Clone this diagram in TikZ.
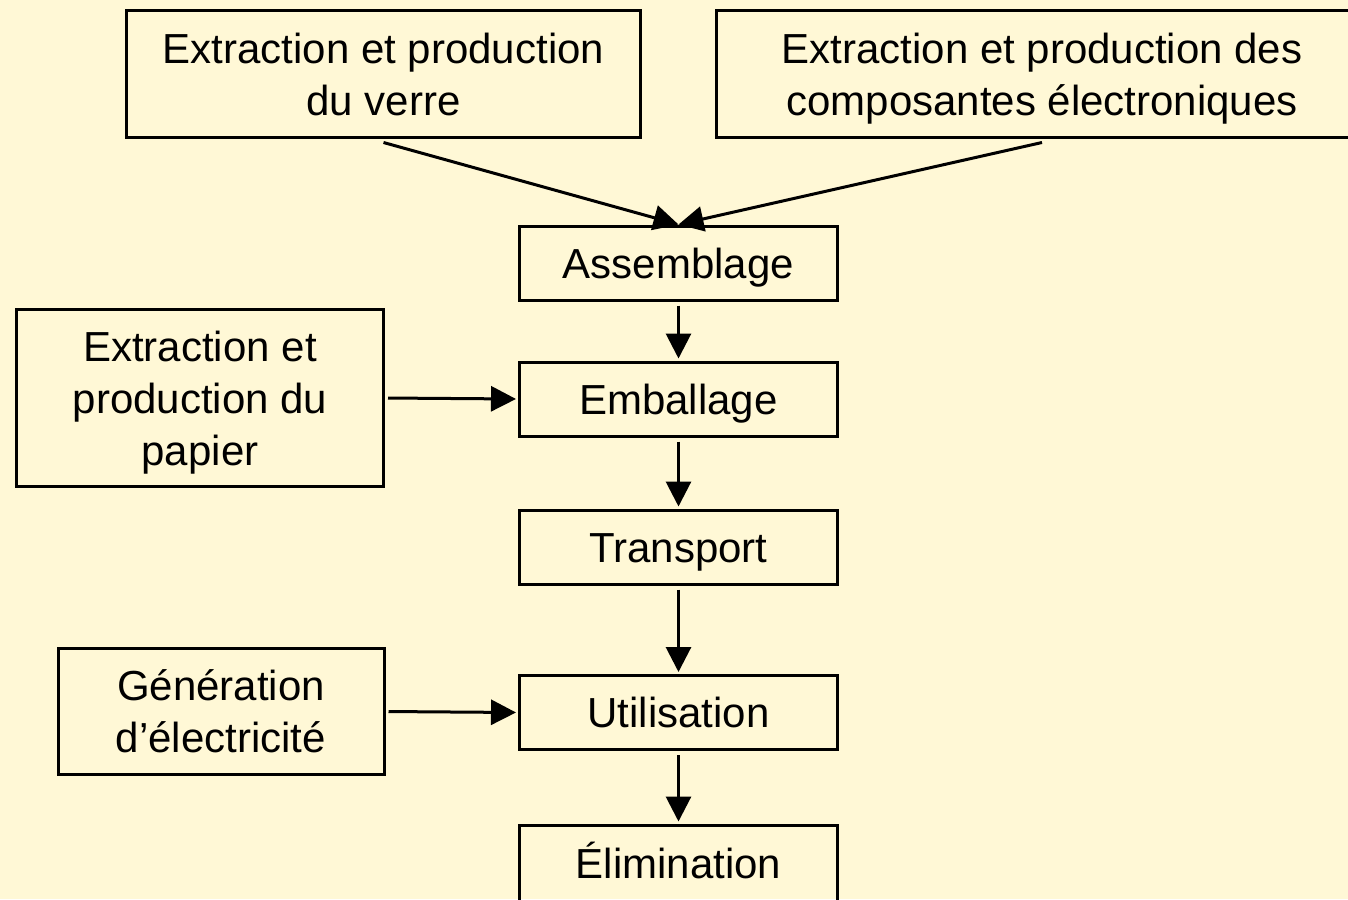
\documentclass[tikz,border=0pt]{standalone}
\usepackage{fontspec}
\setmainfont{Liberation Sans}
\usetikzlibrary{arrows.meta}
\definecolor{paper}{RGB}{255,248,214}
\begin{document}
\begin{tikzpicture}[x=1pt,y=-1pt,
  box/.style={draw=black,line width=3pt,rectangle,inner sep=0pt,align=center,
    text depth=0pt,font=\fontsize{42}{52}\selectfont},
  stage/.style={box,minimum width=318pt,minimum height=74pt,text height=30pt},
  flow/.style={line width=3pt,-{Triangle[length=25pt,width=25pt]}}]
  \fill[paper] (0,0) rectangle (1348,899);
  \useasboundingbox (0,0) rectangle (1348,899);
  \clip (0,0) rectangle (1348,899);
  % source boxes
  \node[box,minimum width=514pt,minimum height=126pt] (verre) at (383.5,74)
    {Extraction et production\\du verre};
  \node[box,minimum width=652pt,minimum height=126pt] (elec) at (1042,74)
    {Extraction et production des\\composantes électroniques};
  \node[box,minimum width=367pt,minimum height=177pt] (papier) at (200,398)
    {Extraction et\\production du\\papier};
  \node[box,minimum width=326pt,minimum height=126pt] (elect) at (221,711.5)
    {Génération\\d’électricité};
  % life-cycle stages
  \node[stage] (assemblage) at (678.5,263) {Assemblage};
  \node[stage] (emballage) at (678.5,399) {Emballage};
  \node[stage] (transport) at (678.5,547) {Transport};
  \node[stage] (utilisation) at (678.5,712.5) {Utilisation};
  \node[stage,minimum height=76pt] (elimination) at (678.5,863) {Élimination};
  % connectors
  \draw[flow] ([yshift=-4pt]verre.south) -- (assemblage.north);
  \draw[flow] ([yshift=-4pt]elec.south) -- (assemblage.north);
  \draw[flow,shorten <=4pt,shorten >=2pt] (assemblage.south) -- (emballage.north);
  \draw[flow,shorten <=4pt,shorten >=2pt] (emballage.south) -- (transport.north);
  \draw[flow,shorten <=4pt,shorten >=2pt] (transport.south) -- (utilisation.north);
  \draw[flow,shorten <=4pt,shorten >=2pt] (utilisation.south) -- (elimination.north);
  \draw[flow,shorten <=3pt,shorten >=2pt] (papier.east) -- (emballage.west);
  \draw[flow,shorten <=3pt,shorten >=2pt] (elect.east) -- (utilisation.west);
\end{tikzpicture}
\end{document}
